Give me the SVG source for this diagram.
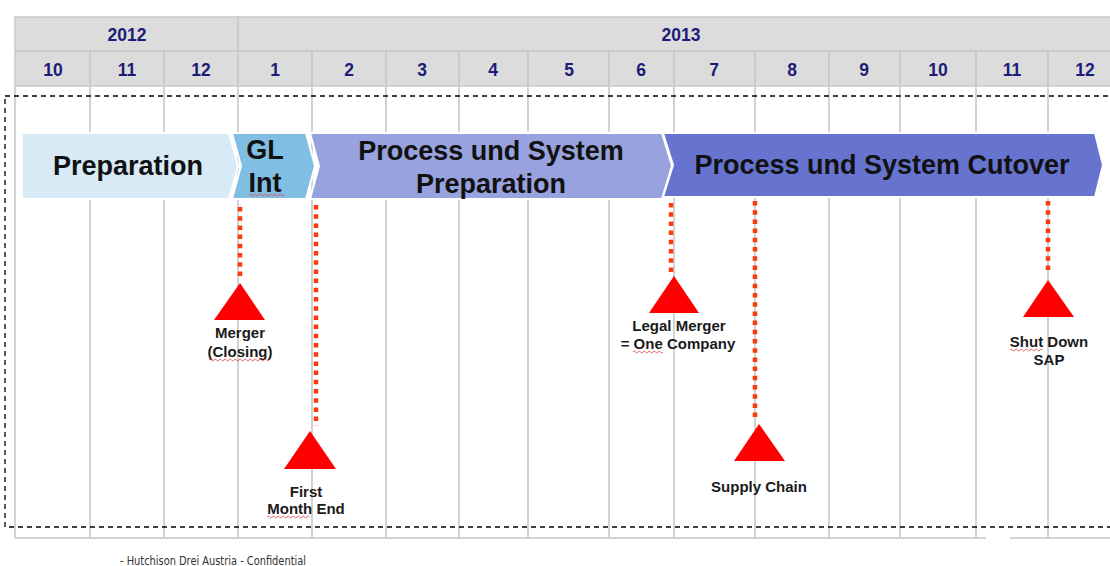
<svg xmlns="http://www.w3.org/2000/svg" width="1110" height="566" viewBox="0 0 1110 566">
<style>
.hdr{fill:#dcdcdc;stroke:#c8c8c8;stroke-width:1.5}
.ht{font-family:"Liberation Sans",Arial,sans-serif;font-weight:bold;font-size:17.5px;fill:#1c1c78;text-anchor:middle}
.grid{stroke:#d2d2d2;stroke-width:2;fill:none}
.chev{stroke:#ffffff;stroke-width:2}
.ct{font-family:"Liberation Sans",Arial,sans-serif;font-weight:bold;font-size:27px;fill:#111;text-anchor:middle}
.dot{stroke:#ff3a0a;stroke-width:4.5;stroke-dasharray:4.5 4.7;fill:none}
.tri{fill:#ff0000}
.ml{font-family:"Liberation Sans",Arial,sans-serif;font-weight:bold;font-size:15px;fill:#1a1a1a;text-anchor:middle}
.sq{stroke:#e05050;stroke-width:0.9;fill:none}
</style>
<rect width="1110" height="566" fill="#ffffff"/>
<g id="grid">
<path class="grid" d="M15 86V538M90 86V538M164 86V538M238 86V538M312 86V538M386 86V538M459 86V538M528 86V538M609 86V538M674 86V538M755 86V538M829 86V538M900 86V538M976 86V538M1048 86V538"/>
<path class="grid" d="M15 538H986M1010 538H1110"/>
</g>
<g id="header">
<rect class="hdr" x="15" y="17" width="223" height="34"/>
<rect class="hdr" x="238" y="17" width="880" height="34"/>
<text class="ht" x="127" y="41">2012</text>
<text class="ht" x="681" y="41">2013</text>
<rect class="hdr" x="15" y="51" width="75" height="35"/>
<rect class="hdr" x="90" y="51" width="74" height="35"/>
<rect class="hdr" x="164" y="51" width="74" height="35"/>
<rect class="hdr" x="238" y="51" width="74" height="35"/>
<rect class="hdr" x="312" y="51" width="74" height="35"/>
<rect class="hdr" x="386" y="51" width="73" height="35"/>
<rect class="hdr" x="459" y="51" width="69" height="35"/>
<rect class="hdr" x="528" y="51" width="81" height="35"/>
<rect class="hdr" x="609" y="51" width="65" height="35"/>
<rect class="hdr" x="674" y="51" width="81" height="35"/>
<rect class="hdr" x="755" y="51" width="74" height="35"/>
<rect class="hdr" x="829" y="51" width="71" height="35"/>
<rect class="hdr" x="900" y="51" width="76" height="35"/>
<rect class="hdr" x="976" y="51" width="72" height="35"/>
<rect class="hdr" x="1048" y="51" width="80" height="35"/>
<text class="ht" x="53" y="76">10</text>
<text class="ht" x="127" y="76">11</text>
<text class="ht" x="201" y="76">12</text>
<text class="ht" x="275" y="76">1</text>
<text class="ht" x="349" y="76">2</text>
<text class="ht" x="422" y="76">3</text>
<text class="ht" x="493" y="76">4</text>
<text class="ht" x="569" y="76">5</text>
<text class="ht" x="641" y="76">6</text>
<text class="ht" x="714" y="76">7</text>
<text class="ht" x="792" y="76">8</text>
<text class="ht" x="864" y="76">9</text>
<text class="ht" x="938" y="76">10</text>
<text class="ht" x="1012" y="76">11</text>
<text class="ht" x="1085" y="76">12</text>
</g>
<rect id="frame" x="5" y="96" width="1130" height="431" fill="none" stroke="#000" stroke-width="1.3" stroke-dasharray="5 4"/>
<g id="phase-preparation">
<polygon class="chev" fill="#d7eaf6" points="22,133 229,133 238,166 229,199 22,199"/>
<text class="ct" x="128" y="175">Preparation</text>
</g>
<g id="phase-gl-int">
<polygon class="chev" fill="#80bfe3" points="232,133 306,133 315,166 306,199 232,199 241,166"/>
<text class="ct" x="265" y="159">GL</text>
<text class="ct" x="265" y="192">Int</text>
<path class="sq" d="M249 195q1.25 -2 2.5 0t2.5 0t2.5 0t2.5 0t2.5 0t2.5 0t2.5 0t2.5 0t2.5 0t2.5 0t2.5 0t2.5 0t2.5 0t2.5 0"/>
</g>
<g id="phase-process-prep">
<polygon class="chev" fill="#97a2de" points="310,133 662,133 672,166 662,199 310,199 319,166"/>
<text class="ct" x="491" y="160">Process und System</text>
<text class="ct" x="491" y="193">Preparation</text>
</g>
<g id="phase-cutover">
<polygon class="chev" fill="#6674cf" points="663,133 1095,133 1103,165 1095,197 663,197 673,165"/>
<text class="ct" x="882" y="174">Process und System Cutover</text>
</g>
<g id="connectors">
<line class="dot" x1="240" y1="207" x2="240" y2="278"/>
<line class="dot" x1="316" y1="205" x2="316" y2="426"/>
<line class="dot" x1="671" y1="203" x2="671" y2="272"/>
<line class="dot" x1="755" y1="201" x2="755" y2="420"/>
<line class="dot" x1="1048" y1="201" x2="1048" y2="272"/>
</g>
<g id="ms-merger">
<polygon class="tri" points="240,283 265,320 214,320"/>
<text class="ml" x="240" y="338">Merger</text>
<text class="ml" x="240" y="357">(Closing)</text>
<path class="sq" d="M209 360q1.25 -2 2.5 0t2.5 0t2.5 0t2.5 0t2.5 0t2.5 0t2.5 0t2.5 0t2.5 0t2.5 0t2.5 0t2.5 0t2.5 0t2.5 0t2.5 0t2.5 0t2.5 0t2.5 0t2.5 0t2.5 0t2.5 0t2.5 0t2.5 0t2.5 0"/>
</g>
<g id="ms-first-month-end">
<polygon class="tri" points="310,431 336,469 284,469"/>
<text class="ml" x="306" y="497">First</text>
<text class="ml" x="306" y="514">Month End</text>
<path class="sq" d="M267 517q1.25 -2 2.5 0t2.5 0t2.5 0t2.5 0t2.5 0t2.5 0t2.5 0t2.5 0t2.5 0t2.5 0t2.5 0t2.5 0t2.5 0t2.5 0t2.5 0t2.5 0t2.5 0"/>
</g>
<g id="ms-legal-merger">
<polygon class="tri" points="674,276 699,313 649,313"/>
<text class="ml" x="679" y="331">Legal Merger</text>
<text class="ml" x="678" y="349">= One Company</text>
<path class="sq" d="M633 352q1.25 -2 2.5 0t2.5 0t2.5 0t2.5 0t2.5 0t2.5 0t2.5 0t2.5 0t2.5 0t2.5 0t2.5 0t2.5 0"/>
</g>
<g id="ms-supply-chain">
<polygon class="tri" points="759,424 785,461 734,461"/>
<text class="ml" x="759" y="492">Supply Chain</text>
</g>
<g id="ms-shut-down">
<polygon class="tri" points="1048,280 1074,317 1023,317"/>
<text class="ml" x="1049" y="347">Shut Down</text>
<text class="ml" x="1049" y="365">SAP</text>
<path class="sq" d="M1010 350q1.25 -2 2.5 0t2.5 0t2.5 0t2.5 0t2.5 0t2.5 0t2.5 0t2.5 0t2.5 0t2.5 0t2.5 0t2.5 0t2.5 0"/>
</g>
<text x="120" y="565" font-family="'Liberation Sans Narrow','DejaVu Sans Condensed',sans-serif" font-size="12" fill="#333" textLength="186" lengthAdjust="spacingAndGlyphs">- Hutchison Drei Austria - Confidential</text>
</svg>
